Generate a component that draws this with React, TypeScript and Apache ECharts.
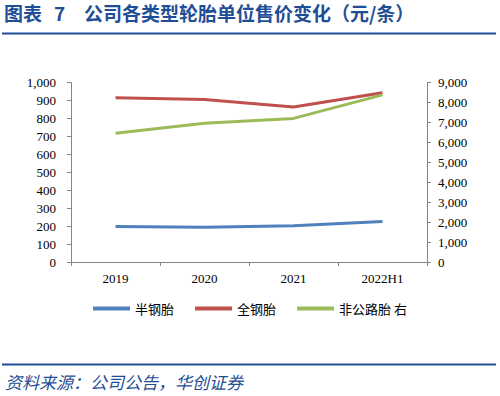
import React, { useEffect, useRef } from "react";
import * as echarts from "echarts";

const categories = ["2019", "2020", "2021", "2022H1"];
const semiSteel = [198, 193, 202, 226];
const allSteel = [915, 905, 863, 943];
const offRoad = [6460, 6960, 7200, 8380];
const seriesNames = ["半钢胎", "全钢胎", "非公路胎 右"];

const TITLE_PREFIX = "图表";
const TITLE_NUM = "7";
const TITLE = "公司各类型轮胎单位售价变化（元/条）";
const SOURCE = "资料来源：公司公告，华创证券";

export default function App() {
  const ref = useRef<HTMLDivElement>(null);
  useEffect(() => {
    const chart = echarts.init(ref.current!, null, { renderer: "svg" });
    const axisColor = "#868686";
    const blue = "#1F4E96";
    const labelStyle = {
      color: "#000",
      fontFamily: "Liberation Serif",
      fontSize: 13,
    };
    const titleStyle = {
      fontFamily: "Noto Sans CJK SC",
      fontWeight: "bold",
      fontSize: 19,
      fill: blue,
    };
    chart.setOption({
      animation: false,
      backgroundColor: "#fff",
      grid: { left: 71, right: 73, top: 82.5, bottom: 134, containLabel: false },
      legend: {
        bottom: 76,
        left: "center",
        itemWidth: 37,
        itemHeight: 4,
        itemGap: 21,
        icon: "rect",
        textStyle: { fontFamily: "Noto Sans CJK SC", fontSize: 13, color: "#000" },
        data: seriesNames,
      },
      xAxis: {
        type: "category",
        data: categories,
        boundaryGap: true,
        axisLine: { lineStyle: { color: axisColor, width: 1 } },
        axisTick: { show: true, inside: false, length: 4, lineStyle: { color: axisColor } },
        axisLabel: { ...labelStyle, margin: 10 },
      },
      yAxis: [
        {
          type: "value",
          min: 0,
          max: 1000,
          interval: 100,
          splitLine: { show: false },
          axisLine: { show: true, lineStyle: { color: axisColor } },
          axisTick: { show: true, length: 4, lineStyle: { color: axisColor } },
          axisLabel: {
            ...labelStyle,
            margin: 15,
            formatter: (v: number) => v.toLocaleString("en-US"),
          },
        },
        {
          type: "value",
          min: 0,
          max: 9000,
          interval: 1000,
          position: "right",
          splitLine: { show: false },
          axisLine: { show: true, lineStyle: { color: axisColor } },
          axisTick: { show: true, length: 4, lineStyle: { color: axisColor } },
          axisLabel: {
            ...labelStyle,
            margin: 11,
            formatter: (v: number) => v.toLocaleString("en-US"),
          },
        },
      ],
      series: [
        {
          name: seriesNames[0],
          type: "line",
          data: semiSteel,
          symbol: "none",
          lineStyle: { width: 3, color: "#4F81BD" },
          itemStyle: { color: "#4F81BD" },
        },
        {
          name: seriesNames[1],
          type: "line",
          data: allSteel,
          symbol: "none",
          lineStyle: { width: 3, color: "#C0504D" },
          itemStyle: { color: "#C0504D" },
        },
        {
          name: seriesNames[2],
          type: "line",
          yAxisIndex: 1,
          data: offRoad,
          symbol: "none",
          lineStyle: { width: 3, color: "#9BBB59" },
          itemStyle: { color: "#9BBB59" },
        },
      ],
      graphic: [
        {
          type: "text",
          left: 4,
          top: 3,
          style: { ...titleStyle, text: TITLE_PREFIX },
        },
        {
          type: "text",
          left: 54,
          top: 3,
          style: { ...titleStyle, text: TITLE_NUM },
        },
        {
          type: "text",
          left: 84,
          top: 3,
          style: { ...titleStyle, text: TITLE },
        },
        {
          type: "line",
          shape: { x1: 2, y1: 33.5, x2: 496, y2: 33.5 },
          style: { stroke: blue, lineWidth: 2 },
        },
        {
          type: "line",
          shape: { x1: 2, y1: 364.5, x2: 496, y2: 364.5 },
          style: { stroke: blue, lineWidth: 2 },
        },
        {
          type: "text",
          left: 5,
          top: 373,
          style: {
            text: SOURCE,
            fontFamily: "Noto Sans CJK SC",
            fontStyle: "italic",
            fontSize: 17,
            fill: blue,
          },
        },
      ],
    });
    return () => chart.dispose();
  }, []);
  return <div ref={ref} style={{ width: 500, height: 396, position: "absolute", left: 0, top: 0 }} />;
}
